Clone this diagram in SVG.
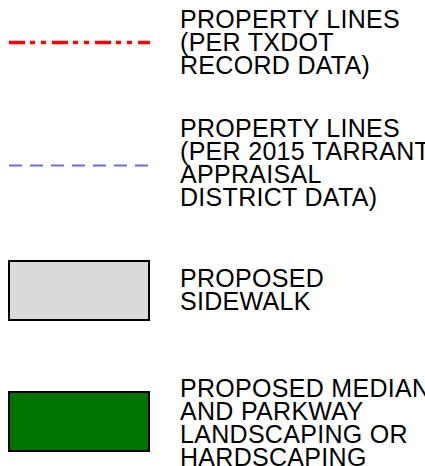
<svg xmlns="http://www.w3.org/2000/svg" width="425" height="466" viewBox="0 0 425 466">
<style>
.t{font-family:"Liberation Sans",Arial,sans-serif;font-size:25px;letter-spacing:0.3px;fill:#000}
</style>
<rect width="425" height="466" fill="#fff"/>
<g id="txdot-lines">
<line x1="9" y1="42.5" x2="150" y2="42.5" stroke="#ff0000" stroke-width="3.5" stroke-dasharray="16 5 5 6 5 6"/>
<text class="t" x="180" y="27.5">PROPERTY LINES</text>
<text class="t" x="180" y="50.7">(PER TXDOT</text>
<text class="t" x="180" y="74">RECORD DATA)</text>
</g>
<g id="tarrant-lines">
<line x1="9" y1="165.5" x2="150" y2="165.5" stroke="#6a6af0" stroke-width="1.8" stroke-dasharray="13 8"/>
<text class="t" x="180" y="137">PROPERTY LINES</text>
<text class="t" x="180" y="160">(PER 2015 TARRANT</text>
<text class="t" x="180" y="183">APPRAISAL</text>
<text class="t" x="180" y="206">DISTRICT DATA)</text>
</g>
<g id="sidewalk">
<rect x="9" y="261" width="140" height="59" fill="#dadada" stroke="#000" stroke-width="2"/>
<text class="t" x="180" y="287">PROPOSED</text>
<text class="t" x="180" y="310">SIDEWALK</text>
</g>
<g id="landscaping">
<rect x="9" y="392" width="140" height="59" fill="#007400" stroke="#000" stroke-width="2"/>
<text class="t" x="180" y="397">PROPOSED MEDIAN</text>
<text class="t" x="180" y="420">AND PARKWAY</text>
<text class="t" x="180" y="443">LANDSCAPING OR</text>
<text class="t" x="180" y="466">HARDSCAPING</text>
</g>
<g id="connectors"/>
</svg>
